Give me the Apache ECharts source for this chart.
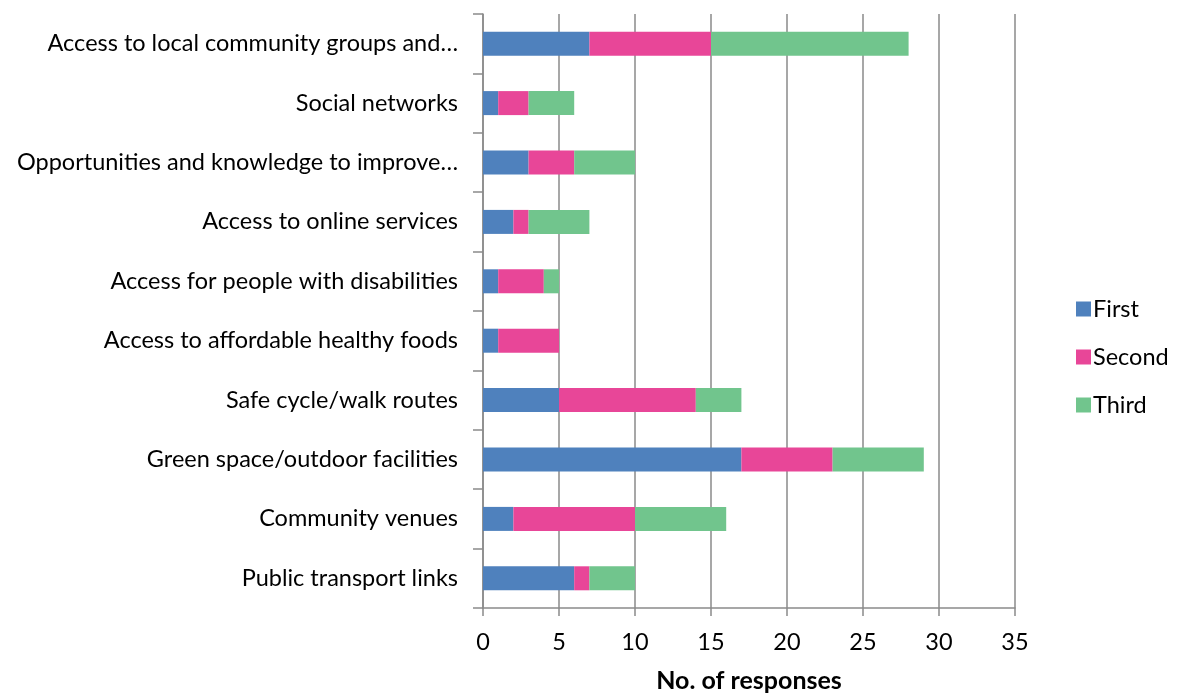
<!DOCTYPE html>
<html>
<head>
<meta charset="utf-8">
<script src="https://cdn.jsdelivr.net/npm/echarts@6/dist/echarts.min.js"></script>
<style>html,body{margin:0;padding:0;background:#fff}#c{width:1178px;height:695px}</style>
</head>
<body>
<div id="c"></div>
<script>
const categories = ['Public transport links', 'Community venues', 'Green space/outdoor facilities', 'Safe cycle/walk routes', 'Access to affordable healthy foods', 'Access for people with disabilities', 'Access to online services', 'Opportunities and knowledge to improve…', 'Social networks', 'Access to local community groups and…'];
const first = [6, 2, 17, 5, 1, 1, 2, 3, 1, 7];
const second = [1, 8, 6, 9, 4, 3, 1, 3, 2, 8];
const third = [3, 6, 6, 3, 0, 1, 4, 4, 3, 13];
const seriesNames = ['First', 'Second', 'Third'];
const colors = ['#4F81BD', '#E84698', '#71C58D'];
const FONT = 'Lato';
const FS = 23.5;
const chart = echarts.init(document.getElementById('c'));
const mk = (name, data, color) => ({
  name, type: 'bar', stack: 'total', data, barWidth: 24,
  itemStyle: { color }, emphasis: { disabled: true }
});
chart.setOption({
  animation: false,
  textStyle: { fontFamily: FONT },
  grid: { left: 483, right: 163, top: 14, bottom: 87, containLabel: false, outerBoundsMode: 'none' },
  legend: {
    orient: 'vertical', left: 1071, top: 292, itemGap: 24,
    itemWidth: 15, itemHeight: 15, icon: 'rect',
    textStyle: { fontFamily: FONT, fontSize: FS, lineHeight: 24, color: '#000', padding: [0, 0, 0, -3] },
    data: seriesNames
  },
  xAxis: {
    type: 'value', min: 0, max: 35, interval: 5,
    name: 'No. of responses', nameLocation: 'middle', nameGap: 60,
    nameTextStyle: { fontFamily: FONT, fontSize: 25, fontWeight: 'bold', color: '#000' },
    axisLine: { show: true, lineStyle: { color: '#8a8a8a', width: 1.5 } },
    axisTick: { show: true, length: 8, lineStyle: { color: '#8a8a8a', width: 1.5 } },
    axisLabel: { fontFamily: FONT, fontSize: FS, color: '#000', margin: 22 },
    splitLine: { show: true, lineStyle: { color: '#8a8a8a', width: 1.5 } }
  },
  yAxis: {
    type: 'category', data: categories,
    axisLine: { show: true, lineStyle: { color: '#8a8a8a', width: 1.5 } },
    axisTick: { show: true, length: 10, inside: false, lineStyle: { color: '#8a8a8a', width: 1.5 } },
    axisLabel: { fontFamily: FONT, fontSize: FS, color: '#000', margin: 25 },
    splitLine: { show: false }
  },
  series: [mk(seriesNames[0], first, colors[0]), mk(seriesNames[1], second, colors[1]), mk(seriesNames[2], third, colors[2])]
});
</script>
</body>
</html>
